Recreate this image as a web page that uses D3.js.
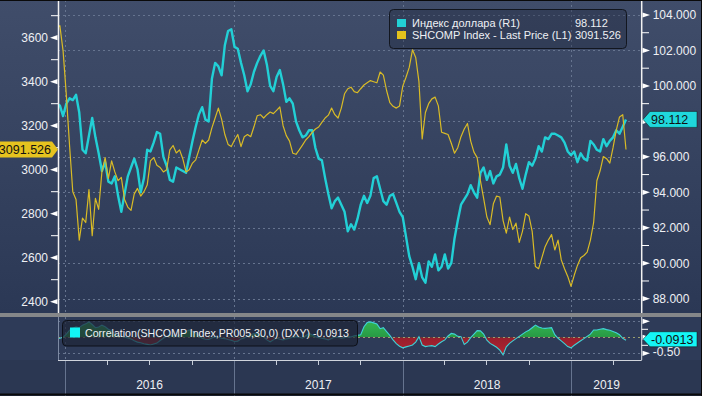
<!DOCTYPE html>
<html>
<head>
<meta charset="utf-8">
<script src="https://cdn.jsdelivr.net/npm/d3@7"></script>
<style>
body { margin: 0; background: #2b3752; }
svg { display: block; font-family: 'Liberation Sans', Arial, sans-serif; }
</style>
</head>
<body>
<svg id="chart" width="702" height="396"></svg>
<script>
// weekly closes, first week starts 14 Dec 2015
var shcomp = [3640,3655,3540,3340,3110,2900,2865,2680,2780,2760,
	2910,2700,2870,2820,2990,3055,2960,3040,2990,2950,
	2965,2865,2830,2815,2890,2915,2880,2900,2930,3040,
	3055,3020,3010,2990,3000,3090,3110,3076,3090,3050,
	2990,3000,3030,3045,3090,3135,3120,3135,3190,3235,
	3280,3230,3160,3115,3105,3135,3160,3105,3150,3160,
	3150,3195,3245,3250,3235,3250,3262,3255,3270,3285,
	3200,3155,3130,3075,3070,3090,3112,3135,3150,3170,
	3185,3194,3215,3235,3248,3280,3250,3235,3280,3345,
	3368,3375,3355,3350,3368,3385,3395,3405,3400,3395,
	3444,3430,3360,3305,3288,3280,3290,3380,3420,3465,
	3545,3510,3400,3140,3260,3300,3322,3330,3290,3170,
	3165,3160,3120,3075,3100,3150,3185,3210,3130,3080,
	3055,2950,2870,2785,2750,2845,2880,2876,2770,2712,
	2785,2728,2757,2670,2720,2800,2790,2720,2560,2550,
	2600,2650,2680,2705,2635,2680,2590,2550,2515,2470,
	2520,2565,2600,2610,2625,2680,2760,2950,2995,3060,
	3050,3030,3100,3180,3240,3250,3091.526];

var dxy = [99.0,98.9,98.3,99.0,99.3,99.2,99.5,98.5,96.4,96.2,
	97.2,98.2,97.1,96.2,95.2,95.7,94.6,94.5,94.9,93.8,
	92.9,93.9,94.9,95.4,95.9,95.3,94.0,94.8,96.4,96.3,
	96.8,97.4,97.3,96.0,95.5,94.7,94.6,95.4,95.3,95.2,
	95.1,96.0,96.9,97.7,98.4,98.8,98.1,98.0,100.4,101.3,
	101.1,100.6,102.3,103.1,103.2,102.2,102.1,101.3,100.6,99.7,
	100.1,100.8,101.3,101.7,102.0,101.2,100.0,99.7,100.5,100.9,
	100.1,99.1,99.3,99.0,98.0,97.5,97.1,97.2,97.5,97.5,
	96.5,95.9,95.8,94.8,93.9,93.1,93.5,93.7,93.3,92.9,
	91.8,92.2,91.9,92.5,93.3,93.8,93.4,93.8,94.8,94.9,
	94.2,93.5,93.3,93.8,93.9,93.4,92.9,92.6,91.5,90.4,
	89.8,89.1,90.0,89.2,88.9,90.1,89.8,90.5,89.6,89.8,
	90.5,89.7,90.0,91.4,92.4,93.3,93.6,93.9,94.4,94.0,
	93.7,95.1,95.4,94.7,95.2,94.5,94.9,95.0,95.4,96.7,
	95.5,95.1,95.6,94.8,94.2,95.0,95.7,95.5,95.9,96.6,
	96.3,97.1,97.0,97.3,97.3,97.2,97.1,96.8,96.3,96.1,
	96.3,95.7,96.2,95.9,95.8,96.9,96.7,96.4,96.3,97.0,
	96.6,96.9,97.1,97.5,97.3,97.7,98.112];

var corr = [-0.05,-0.03,0.00,0.10,0.22,0.28,0.33,0.30,0.38,0.42,
	0.48,0.40,0.30,0.32,0.38,0.33,0.25,0.20,0.10,0.06,
	0.03,0.01,-0.02,-0.05,-0.11,-0.15,-0.17,-0.20,-0.22,-0.24,
	-0.21,-0.18,-0.10,-0.03,0.03,0.07,0.05,0.02,0.07,0.13,
	0.18,0.23,0.18,0.13,0.04,-0.03,-0.06,-0.07,-0.02,0.02,
	0.00,-0.03,-0.04,-0.07,-0.09,-0.13,-0.12,-0.05,-0.02,0.04,
	0.08,0.12,0.12,0.06,0.01,-0.08,-0.14,-0.08,-0.03,-0.06,
	-0.08,-0.05,-0.03,0.00,0.02,0.00,-0.03,0.05,0.12,0.08,
	0.02,-0.01,-0.03,-0.05,-0.08,-0.04,0.01,0.00,-0.03,-0.01,
	0.02,0.01,0.05,0.06,0.08,0.33,0.46,0.48,0.45,0.42,
	0.27,0.30,0.18,0.06,-0.08,-0.20,-0.28,-0.33,-0.30,-0.27,
	-0.24,-0.15,0.02,-0.24,-0.29,-0.27,-0.26,-0.29,-0.21,-0.14,
	-0.08,0.04,0.12,0.10,0.03,0.02,-0.22,-0.15,-0.01,0.10,
	0.21,0.20,0.10,-0.09,-0.19,-0.25,-0.31,-0.40,-0.55,-0.30,
	-0.19,-0.11,-0.04,0.03,0.10,0.17,0.22,0.30,0.38,0.32,
	0.29,0.28,0.29,0.30,0.08,-0.03,-0.11,-0.20,-0.29,-0.33,
	-0.25,-0.18,-0.11,-0.04,0.03,0.10,0.23,0.23,0.25,0.27,
	0.24,0.22,0.18,0.14,0.08,-0.03,-0.0913];

var leftTicks = [2400, 2600, 2800, 3000, 3200, 3400, 3600],
	leftMinor = [2500, 2700, 2900, 3100, 3300, 3500, 3700],
	rightTicks = [88, 90, 92, 94, 96, 98, 100, 102, 104],
	rightLabels = [88, 90, 92, 94, 96, 100, 102, 104], // 98 sits under the last-value tag
	rightMinor = [89, 91, 93, 95, 97, 99, 101, 103],
	corrTicks = [-0.5, 0, 0.5],
	years = ['2016', '2017', '2018', '2019'];

var seriesNames = ['Индекс доллара (R1)', 'SHCOMP Index - Last Price (L1)'],
	corrName = 'Correlation(SHCOMP Index,PR005,30,0)  (DXY)';

var startDate = new Date(2015, 11, 14);
var dates = d3.range(shcomp.length).map(function (i) { return d3.timeDay.offset(startDate, 7 * i); });

var svg = d3.select('#chart'),
	W = 702, H = 396,
	pl = 58, pr = 641.7,
	mainBottom = 313,
	subTop = 317, subBottom = 360;

var cCyan = '#22d0d6', cYellow = '#d9bb26', cText = '#eef0f4', cGrid = '#66748f';

var x = d3.scaleTime().domain([new Date(2015, 11, 17), new Date(2019, 5, 2)]).range([pl, pr]);
var yL = d3.scaleLinear().domain([2400, 3600]).range([301.7, 37.7]);
var yR = d3.scaleLinear().domain([88, 104]).range([298.7, 15]);
var yC = d3.scaleLinear().domain([-0.5, 0.5]).range([353.3, 321.3]);

// Gradients and clips
var defs = svg.append('defs');
var g1 = defs.append('linearGradient').attr('id', 'bgMain').attr('x1', 0).attr('y1', 0).attr('x2', 0).attr('y2', 1);
g1.append('stop').attr('offset', '0%').attr('stop-color', '#404d6a');
g1.append('stop').attr('offset', '100%').attr('stop-color', '#2b3855');
var g2 = defs.append('linearGradient').attr('id', 'gPos').attr('x1', 0).attr('y1', 0).attr('x2', 0).attr('y2', 1);
g2.append('stop').attr('offset', '0%').attr('stop-color', '#33b552');
g2.append('stop').attr('offset', '100%').attr('stop-color', '#1b7a35');
var g3 = defs.append('linearGradient').attr('id', 'gNeg').attr('x1', 0).attr('y1', 0).attr('x2', 0).attr('y2', 1);
g3.append('stop').attr('offset', '0%').attr('stop-color', '#7e1826');
g3.append('stop').attr('offset', '100%').attr('stop-color', '#b02532');

function addClip(id, x0, y0, w, h) {
	defs.append('clipPath').attr('id', id).append('rect')
		.attr('x', x0).attr('y', y0).attr('width', w).attr('height', h);
}
addClip('clipMain', pl, 0, pr - pl, mainBottom);
addClip('clipSub', pl, subTop, pr - pl, subBottom - subTop);
addClip('clipPos', pl, subTop, pr - pl, yC(0) - subTop);
addClip('clipNeg', pl, yC(0), pr - pl, subBottom - yC(0));

// Backgrounds
svg.append('rect').attr('width', W).attr('height', H).attr('fill', '#2b3752');
svg.append('rect').attr('width', W).attr('height', mainBottom).attr('fill', 'url(#bgMain)');
svg.append('rect').attr('x', 0).attr('y', subTop).attr('width', W).attr('height', subBottom - subTop).attr('fill', '#2e3b58');

var yearStarts = years.map(function (y) { return new Date(+y, 0, 1); });

// Grid lines
var grid = svg.append('g').attr('class', 'grid')
	.attr('stroke', cGrid).attr('stroke-width', 1).attr('stroke-dasharray', '2,3');
grid.selectAll('.hgrid').data(rightTicks).enter().append('line')
	.attr('x1', pl).attr('x2', pr)
	.attr('y1', function (d) { return Math.round(yR(d)) + 0.5; })
	.attr('y2', function (d) { return Math.round(yR(d)) + 0.5; });
grid.selectAll('.vgrid').data(yearStarts).enter().append('line')
	.attr('x1', function (d) { return Math.round(x(d)) + 0.5; })
	.attr('x2', function (d) { return Math.round(x(d)) + 0.5; })
	.attr('y1', 0).attr('y2', mainBottom);
grid.selectAll('.cgrid').data(corrTicks).enter().append('line')
	.attr('x1', pl).attr('x2', pr)
	.attr('y1', function (d) { return Math.round(yC(d)) + 0.5; })
	.attr('y2', function (d) { return Math.round(yC(d)) + 0.5; });
grid.selectAll('.vsub').data(yearStarts).enter().append('line')
	.attr('x1', function (d) { return Math.round(x(d)) + 0.5; })
	.attr('x2', function (d) { return Math.round(x(d)) + 0.5; })
	.attr('y1', subTop).attr('y2', subBottom);

// Price lines
var main = svg.append('g').attr('clip-path', 'url(#clipMain)');
main.append('path').datum(dxy)
	.attr('fill', 'none').attr('stroke', cCyan).attr('stroke-width', 2.4).attr('stroke-linejoin', 'round')
	.attr('d', d3.line().x(function (d, i) { return x(dates[i]); }).y(function (d) { return yR(d); }));
main.append('path').datum(shcomp)
	.attr('fill', 'none').attr('stroke', cYellow).attr('stroke-width', 1.2).attr('stroke-linejoin', 'round')
	.attr('d', d3.line().x(function (d, i) { return x(dates[i]); }).y(function (d) { return yL(d); }));

// Correlation panel
var corrArea = d3.area().x(function (d, i) { return x(dates[i]); }).y0(yC(0)).y1(function (d) { return yC(d); });
var sub = svg.append('g').attr('clip-path', 'url(#clipSub)');
sub.append('path').datum(corr).attr('clip-path', 'url(#clipPos)').attr('fill', 'url(#gPos)').attr('d', corrArea);
sub.append('path').datum(corr).attr('clip-path', 'url(#clipNeg)').attr('fill', 'url(#gNeg)').attr('d', corrArea);
sub.append('line').attr('x1', pl).attr('x2', pr).attr('y1', Math.round(yC(0)) + 0.5).attr('y2', Math.round(yC(0)) + 0.5)
	.attr('stroke', '#9aa070').attr('stroke-dasharray', '2,3');
sub.append('path').datum(corr)
	.attr('fill', 'none').attr('stroke', '#3fd3d6').attr('stroke-width', 1.1)
	.attr('d', d3.line().x(function (d, i) { return x(dates[i]); }).y(function (d) { return yC(d); }));

// Separator and frame lines
svg.append('rect').attr('x', 0).attr('y', mainBottom).attr('width', W).attr('height', subTop - mainBottom).attr('fill', '#858789');
svg.append('line').attr('x1', pl + 0.5).attr('x2', pl + 0.5).attr('y1', 0).attr('y2', mainBottom).attr('stroke', '#f2f2f2').attr('stroke-width', 1.5);
svg.append('line').attr('x1', pr).attr('x2', pr).attr('y1', 0).attr('y2', mainBottom).attr('stroke', '#f2f2f2').attr('stroke-width', 1.5);
svg.append('line').attr('x1', pl + 0.5).attr('x2', pl + 0.5).attr('y1', subTop).attr('y2', subBottom).attr('stroke', '#7d8aa3');
svg.append('line').attr('x1', pr).attr('x2', pr).attr('y1', subTop).attr('y2', subBottom).attr('stroke', '#e0e3e8');
svg.append('line').attr('x1', pl).attr('x2', pr).attr('y1', subBottom + 0.5).attr('y2', subBottom + 0.5).attr('stroke', '#d0d4dc');

// Left axis
var axL = svg.append('g').attr('transform', 'translate(' + pl + ',0)')
	.call(d3.axisLeft(yL).tickValues(leftTicks).tickSize(0).tickPadding(10).tickFormat(d3.format('d')));
axL.select('.domain').remove();
axL.selectAll('text').attr('fill', cText).style('font-size', '12px').style('font-family', 'Liberation Sans, Arial');
svg.selectAll('.ltri').data(leftTicks).enter().append('path')
	.attr('fill', '#ffffff')
	.attr('d', function (d) { var y = yL(d); return 'M50,' + y + 'L57.5,' + (y - 2.6) + 'L57.5,' + (y + 2.6) + 'Z'; });
svg.selectAll('.lminor').data(leftMinor).enter().append('line')
	.attr('x1', 51).attr('x2', pl).attr('y1', function (d) { return yL(d); }).attr('y2', function (d) { return yL(d); })
	.attr('stroke', '#ffffff');

// Right axis
var axR = svg.append('g').attr('transform', 'translate(' + pr + ',0)')
	.call(d3.axisRight(yR).tickValues(rightLabels).tickSize(0).tickPadding(11).tickFormat(function (d) { return d.toFixed(3); }));
axR.select('.domain').remove();
axR.selectAll('text').attr('fill', cText).style('font-size', '12px').style('font-family', 'Liberation Sans, Arial');
svg.selectAll('.rtri').data(rightTicks).enter().append('path')
	.attr('fill', '#ffffff')
	.attr('d', function (d) { var y = yR(d); return 'M650,' + y + 'L642.5,' + (y - 2.6) + 'L642.5,' + (y + 2.6) + 'Z'; });
svg.selectAll('.rminor').data(rightMinor).enter().append('line')
	.attr('x1', pr).attr('x2', 649).attr('y1', function (d) { return yR(d); }).attr('y2', function (d) { return yR(d); })
	.attr('stroke', '#ffffff');

// Correlation axis
var axC = svg.append('g').attr('transform', 'translate(' + pr + ',0)')
	.call(d3.axisRight(yC).tickValues([-0.5]).tickSize(0).tickPadding(11).tickFormat(function (d) { return d.toFixed(2); }));
axC.select('.domain').remove();
axC.selectAll('text').attr('fill', cText).style('font-size', '12px').style('font-family', 'Liberation Sans, Arial')
	.attr('dy', '0.2em');
svg.selectAll('.ctri').data(corrTicks).enter().append('path')
	.attr('fill', '#ffffff')
	.attr('d', function (d) { var y = yC(d); return 'M650,' + y + 'L642.5,' + (y - 2.6) + 'L642.5,' + (y + 2.6) + 'Z'; });
svg.selectAll('.cminor').data([-0.25, 0.25]).enter().append('line')
	.attr('x1', pr).attr('x2', 648).attr('y1', function (d) { return yC(d); }).attr('y2', function (d) { return yC(d); })
	.attr('stroke', '#ffffff');

// Bottom time axis
var quarters = d3.timeMonth.every(3).range(new Date(2016, 0, 1), new Date(2019, 5, 1));
svg.selectAll('.qtick').data(quarters).enter().append('line')
	.attr('x1', function (d) { return Math.round(x(d)) + 0.5; })
	.attr('x2', function (d) { return Math.round(x(d)) + 0.5; })
	.attr('y1', subBottom + 1).attr('y2', function (d) { return d.getMonth() === 0 ? H : subBottom + 5; })
	.attr('stroke', function (d) { return d.getMonth() === 0 ? '#66748f' : '#c8ced9'; });
svg.selectAll('.year').data(years).enter().append('text')
	.attr('x', function (d, i) {
		var a = x(yearStarts[i]), b = i < years.length - 1 ? x(yearStarts[i + 1]) : pr;
		return (a + b) / 2;
	})
	.attr('y', 389).attr('text-anchor', 'middle').attr('fill', cText).style('font-size', '12px')
	.text(function (d) { return d; });

// Legend
var leg = svg.append('g');
leg.append('rect').attr('x', 389.5).attr('y', 9.5).attr('width', 237).attr('height', 39).attr('rx', 4)
	.attr('fill', 'rgba(28,36,56,0.35)').attr('stroke', '#12161f');
var legRows = leg.selectAll('.lrow').data([
	{ name: seriesNames[0], color: cCyan, val: dxy[dxy.length - 1].toFixed(3) },
	{ name: seriesNames[1], color: '#e3c21d', val: shcomp[shcomp.length - 1].toFixed(3) }
]).enter().append('g').attr('transform', function (d, i) { return 'translate(0,' + (i * 12) + ')'; });
legRows.append('rect').attr('x', 397).attr('y', 19).attr('width', 9).attr('height', 8).attr('fill', function (d) { return d.color; });
legRows.append('text').attr('x', 412).attr('y', 27).attr('fill', cText).style('font-size', '11px').text(function (d) { return d.name; });
legRows.append('text').attr('x', 575).attr('y', 27).attr('fill', cText).style('font-size', '11px').text(function (d) { return d.val; });

var cleg = svg.append('g');
cleg.append('rect').attr('x', 62.5).attr('y', 320.5).attr('width', 295).attr('height', 25.5).attr('rx', 4)
	.attr('fill', 'rgba(30,38,56,0.72)').attr('stroke', '#0d1018');
cleg.append('rect').attr('x', 70).attr('y', 327.5).attr('width', 10).attr('height', 10).attr('fill', '#12f4f4');
cleg.append('text').attr('x', 85).attr('y', 337).attr('fill', cText).style('font-size', '10.6px')
	.attr('textLength', 264).attr('lengthAdjust', 'spacingAndGlyphs')
	.text(corrName + '  ' + corr[corr.length - 1].toFixed(4));

// Last value tags
function tagLeft(y, fill, label) {
	svg.append('path').attr('fill', fill)
		.attr('d', 'M0,' + (y - 8) + 'L52,' + (y - 8) + 'L58,' + y + 'L52,' + (y + 8) + 'L0,' + (y + 8) + 'Z');
	svg.append('text').attr('x', 51).attr('y', y + 4.5).attr('text-anchor', 'end')
		.attr('fill', '#111').style('font-size', '12.5px').text(label);
}
function tagRight(y, fill, label, h) {
	svg.append('path').attr('fill', fill).attr('stroke', '#111').attr('stroke-width', 0.5)
		.attr('d', 'M643,' + y + 'L650,' + (y - h) + 'L697,' + (y - h) + 'L697,' + (y + h) + 'L650,' + (y + h) + 'Z');
	svg.append('text').attr('x', 651).attr('y', y + 4.5)
		.attr('fill', '#111').style('font-size', '12.5px').text(label);
}
tagLeft(yL(shcomp[shcomp.length - 1]), '#e6c31f', shcomp[shcomp.length - 1].toFixed(3));
tagRight(yR(dxy[dxy.length - 1]), '#1fd8dc', dxy[dxy.length - 1].toFixed(3), 8);
tagRight(yC(corr[corr.length - 1]) - 1, '#14f6f6', corr[corr.length - 1].toFixed(4), 7.5);

// Outer frame
svg.append('line').attr('x1', 0).attr('x2', W).attr('y1', 0.5).attr('y2', 0.5).attr('stroke', '#0a0a0a');
svg.append('line').attr('x1', W - 0.5).attr('x2', W - 0.5).attr('y1', 0).attr('y2', H).attr('stroke', '#0a0a0a');
svg.append('line').attr('x1', 0).attr('x2', W).attr('y1', H - 1.5).attr('y2', H - 1.5).attr('stroke', '#0a0a0a').attr('stroke-width', 2);
</script>
</body>
</html>
